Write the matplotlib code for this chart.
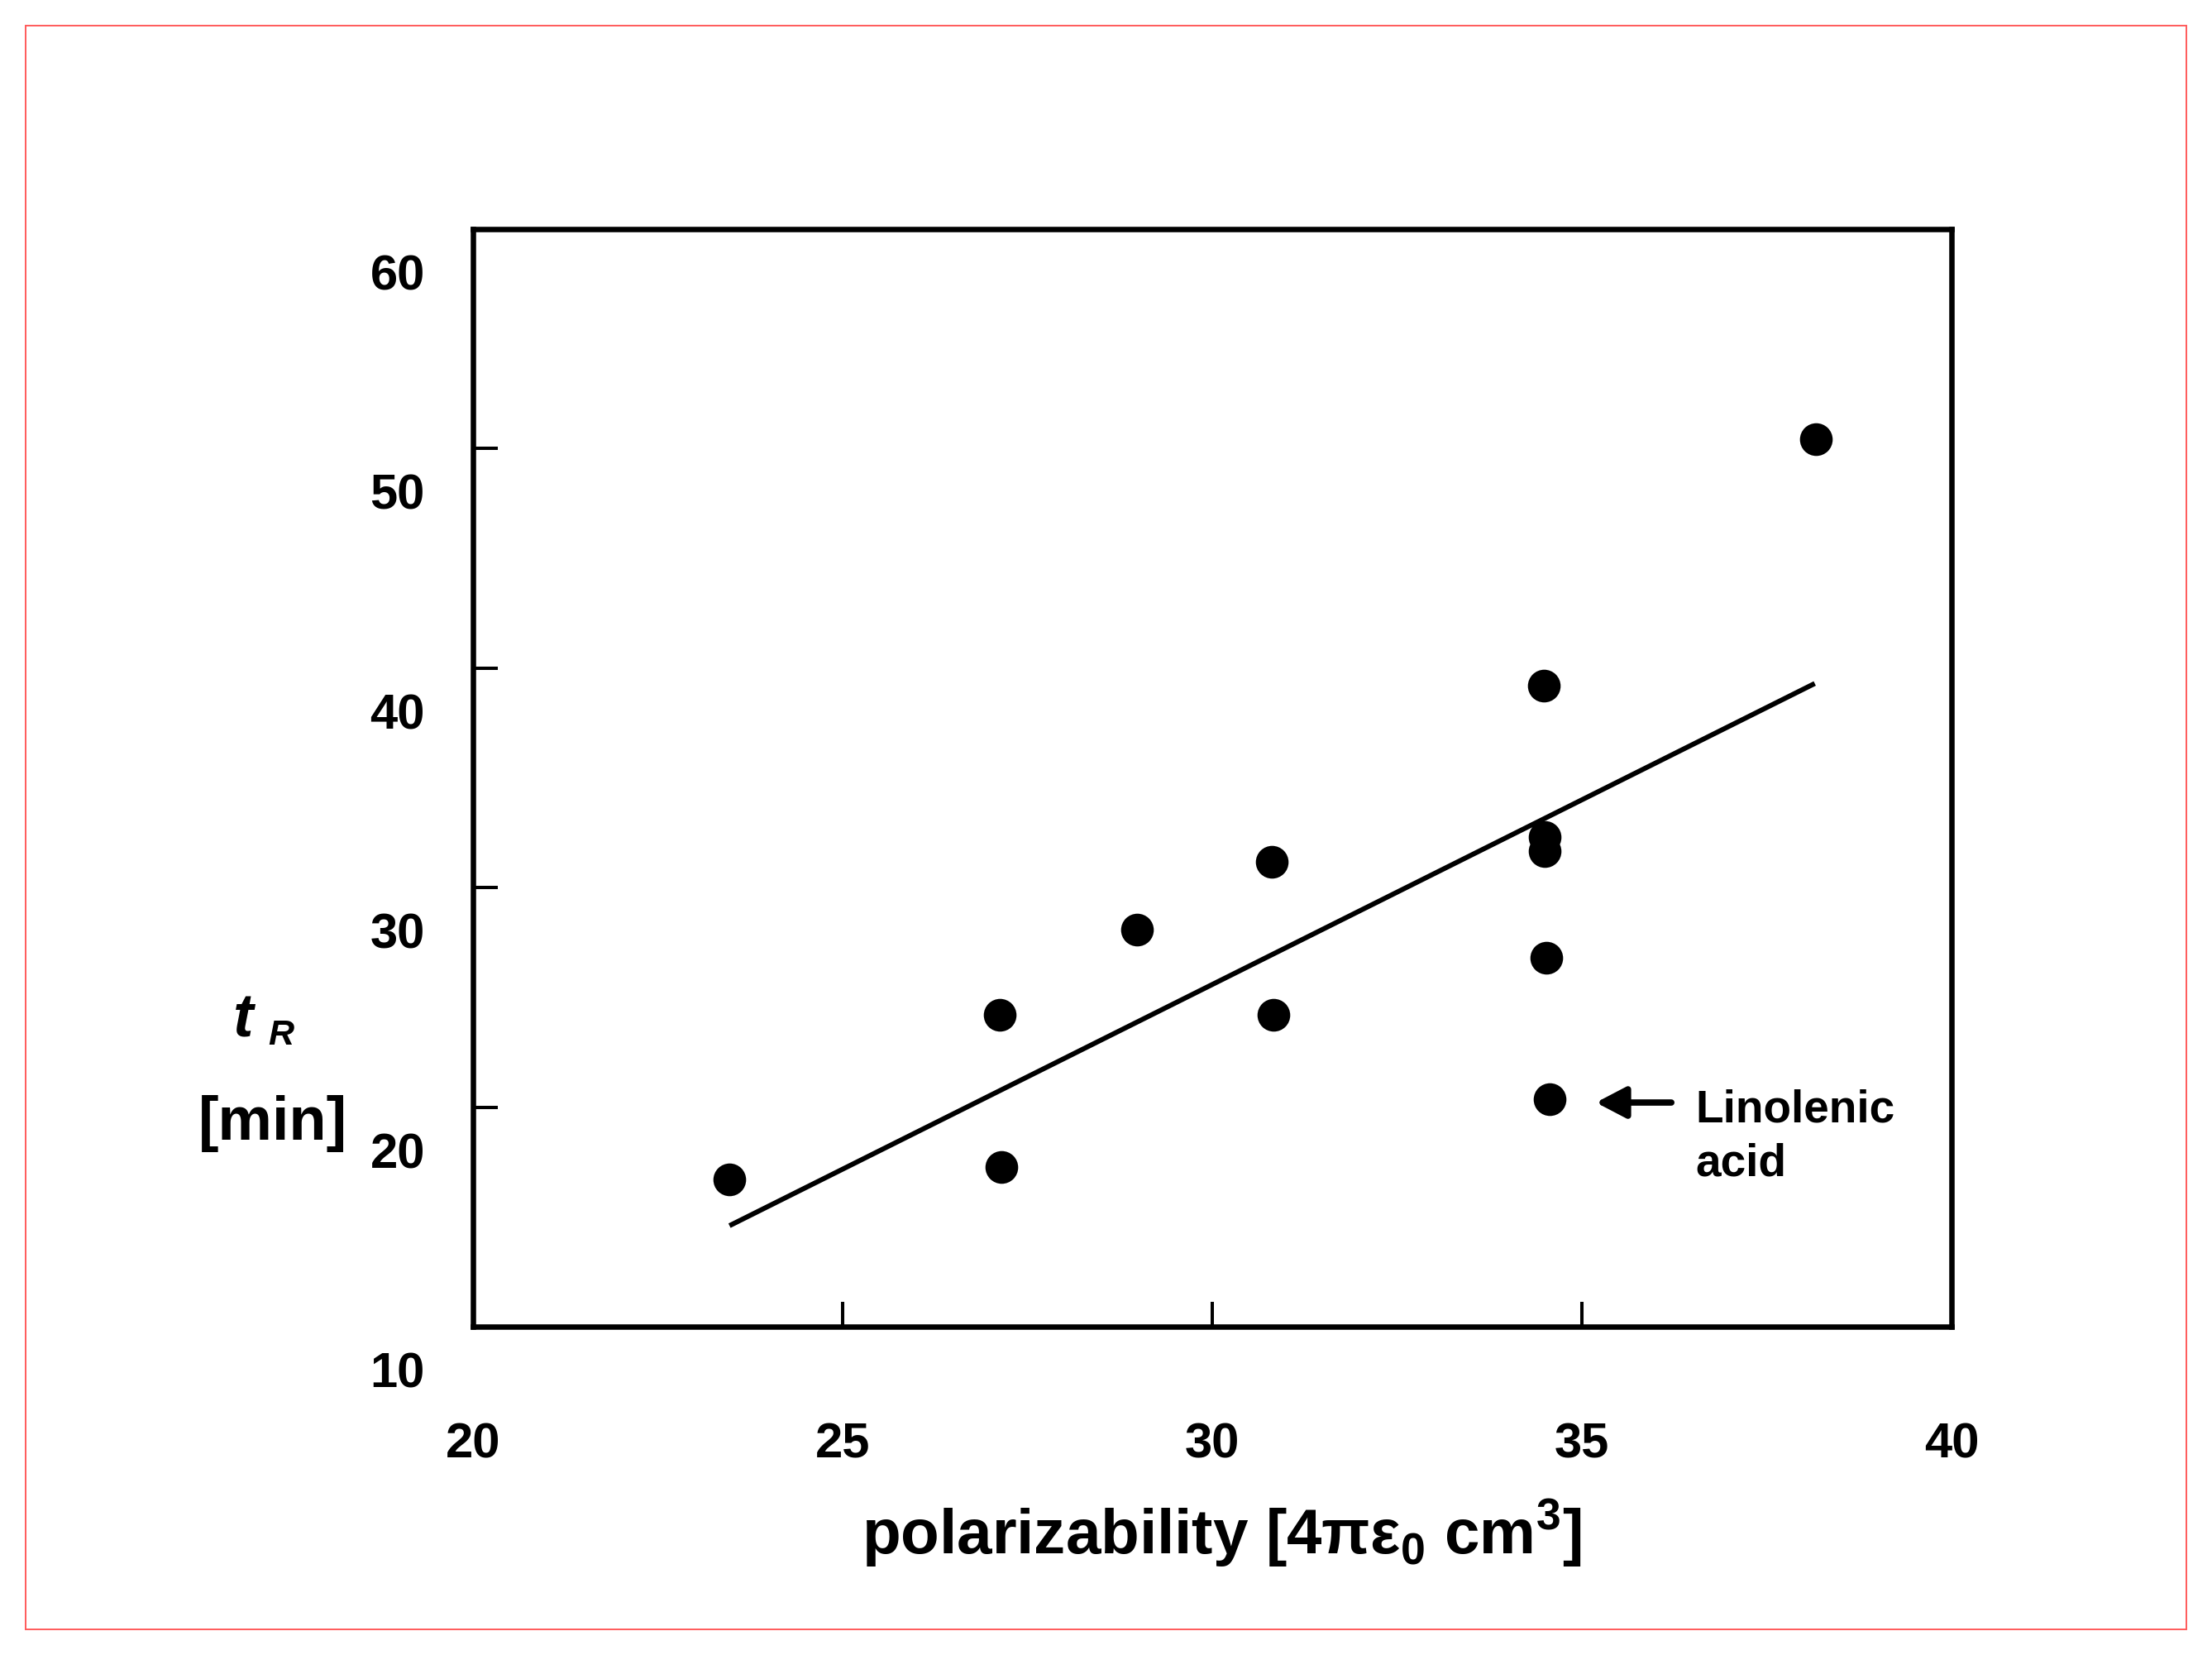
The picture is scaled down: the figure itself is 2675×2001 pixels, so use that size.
import matplotlib
matplotlib.use("Agg")
import matplotlib.pyplot as plt
from matplotlib import transforms
from matplotlib.patches import Rectangle

# ---- data ----
polarizability = [23.47, 27.13, 27.15, 28.98, 30.80, 30.83, 34.48, 34.50, 34.50, 34.52, 34.56, 38.16]
retention_time = [16.71, 24.22, 17.28, 28.07, 31.16, 24.22, 39.20, 32.32, 31.68, 26.79, 20.36, 50.44]
fit_x = [23.47, 38.15]
fit_y = [14.6, 39.3]
x_ticks = [20, 25, 30, 35, 40]
y_ticks = [10, 20, 30, 40, 50, 60]
annot_label = "Linolenic\nacid"
annot_x = 34.56
annot_y = 20.36

W, H = 2675, 2001
fig = plt.figure(figsize=(W / 100, H / 100), dpi=100)
fig.patch.set_facecolor("white")

def fx(x):
    return x / W

def fy(y):
    return 1 - y / H

BOLD = ["Liberation Sans", "DejaVu Sans"]

# outer thin red frame
fig.add_artist(Rectangle((fx(31), fy(1970)), fx(2644) - fx(31), fy(31) - fy(1970),
                         transform=fig.transFigure, fill=False, edgecolor="#ff5a5a",
                         linewidth=1.4))

left, right, top, bottom = 572, 2360, 277, 1604
ax = fig.add_axes([fx(left), fy(bottom), fx(right) - fx(left), fy(top) - fy(bottom)])
ax.set_xlim(20, 40)
ax.set_ylim(10, 60)

for s in ax.spines.values():
    s.set_linewidth(4.7)
    s.set_color("black")

ax.set_xticks(x_ticks)
ax.set_yticks(y_ticks)
ax.tick_params(direction="in", length=21.6, width=2.9, color="black",
               labelbottom=False, labelleft=False, top=False, right=False)

# regression line
ax.plot(fit_x, fit_y, color="black", linewidth=4.3, solid_capstyle="butt", zorder=2)

# data points
ax.plot(polarizability, retention_time, linestyle="none", marker="o",
        markersize=28.5, color="black", markeredgewidth=0, zorder=3)

# tick labels (offset as in the reference)
ytrans = transforms.offset_copy(
    transforms.blended_transform_factory(ax.transAxes, ax.transData),
    fig=fig, x=-58, y=-73.5, units="dots")
for v in y_ticks:
    ax.text(0, v, f"{v}", transform=ytrans, ha="right", va="baseline",
            fontsize=43, fontweight="bold", family=BOLD, clip_on=False)

xtrans = transforms.offset_copy(
    transforms.blended_transform_factory(ax.transData, ax.transAxes),
    fig=fig, x=0, y=-158, units="dots")
for v in x_ticks:
    ax.text(v, 0, f"{v}", transform=xtrans, ha="center", va="baseline",
            fontsize=43, fontweight="bold", family=BOLD, clip_on=False)

# annotation arrow + text
ax.annotate("", xy=(annot_x + 0.63, annot_y - 0.15), xytext=(annot_x + 1.65, annot_y - 0.15),
            arrowprops=dict(arrowstyle="-|>,head_length=22,head_width=11.5",
                            mutation_scale=1, lw=5.5, color="black",
                            shrinkA=0, shrinkB=0))
ax.text(annot_x + 1.98, annot_y - 3.5, annot_label, ha="left", va="baseline",
        fontsize=39.6, fontweight="bold", family=BOLD, linespacing=1.33,
        transform=ax.transData)

# x axis label
fig.text(fx(1477), fy(1880), r"polarizability [4πε$_\mathregular{0}$ cm$^\mathregular{3}$]",
         ha="center", va="baseline", fontsize=55, fontweight="bold", family=BOLD)

# y axis label
fig.text(fx(282), fy(1253), "t", ha="left", va="baseline", fontsize=53,
         fontweight="bold", fontstyle="italic", family=BOLD)
fig.text(fx(324), fy(1263), "R", ha="left", va="baseline", fontsize=31,
         fontweight="bold", fontstyle="italic", family=BOLD)
fig.text(fx(240), fy(1378), "[min]", ha="left", va="baseline", fontsize=53,
         fontweight="bold", family=BOLD)

fig.savefig("out.png", dpi=100, facecolor="white")
